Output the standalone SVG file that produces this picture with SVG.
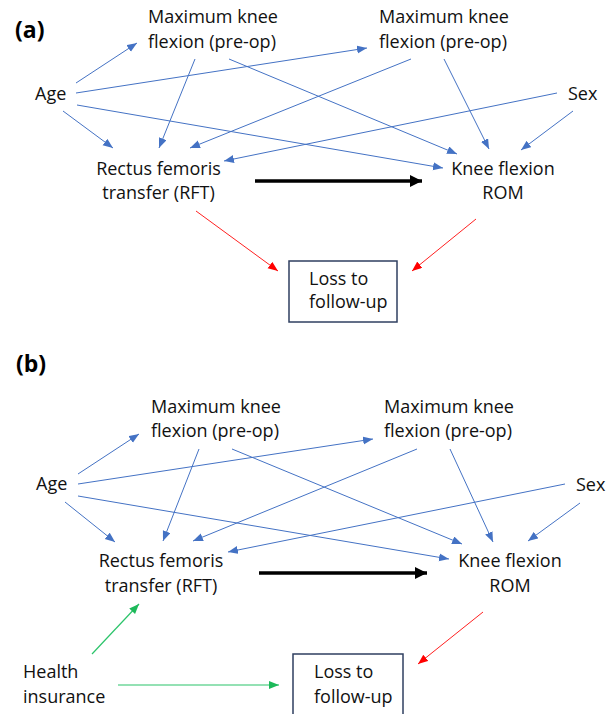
<svg xmlns="http://www.w3.org/2000/svg" width="611" height="714" viewBox="0 0 611 714">
<style>
text{font-family:"Open Sans","Noto Sans","Liberation Sans",sans-serif;font-size:18px;fill:#111}
.lbl{font-family:"Open Sans","Liberation Sans",sans-serif;font-weight:bold;font-size:23px;fill:#000}
.mid{text-anchor:middle}
.b{stroke:#4472C4;stroke-width:1;fill:none;marker-end:url(#hb)}
.r{stroke:#FF2020;stroke-width:1;fill:none;marker-end:url(#hr)}
.g{stroke:#2BC46A;stroke-width:1.2;fill:none;marker-end:url(#hg)}
.k{stroke:#000;stroke-width:3.5;fill:none;marker-end:url(#hk)}
.box{fill:#fff;stroke:#2F3F60;stroke-width:1.5}
</style>
<defs>
<marker id="hb" markerUnits="userSpaceOnUse" markerWidth="11" markerHeight="9" refX="10" refY="4" orient="auto"><path d="M0,0 L10,4 L0,8 z" fill="#4472C4"/></marker>
<marker id="hr" markerUnits="userSpaceOnUse" markerWidth="11" markerHeight="9" refX="10" refY="4" orient="auto"><path d="M0,0 L10,4 L0,8 z" fill="#FF0000"/></marker>
<marker id="hg" markerUnits="userSpaceOnUse" markerWidth="11" markerHeight="9" refX="10" refY="4" orient="auto"><path d="M0,0 L10,4 L0,8 z" fill="#1DB95A"/></marker>
<marker id="hk" markerUnits="userSpaceOnUse" markerWidth="13" markerHeight="13" refX="12" refY="6" orient="auto"><path d="M0,0 L12,6 L0,12 z" fill="#000"/></marker>
</defs>
<rect width="611" height="714" fill="#fff"/>

<g id="connectors-a">
<line class="b" x1="76" y1="83" x2="137" y2="43"/>
<line class="b" x1="76" y1="93" x2="367" y2="48"/>
<line class="b" x1="63" y1="111" x2="113" y2="148"/>
<line class="b" x1="77" y1="105" x2="443" y2="168"/>
<line class="b" x1="195" y1="59" x2="159" y2="148"/>
<line class="b" x1="229" y1="59" x2="457" y2="154"/>
<line class="b" x1="411" y1="59" x2="190" y2="148"/>
<line class="b" x1="444" y1="59" x2="489" y2="149"/>
<line class="b" x1="557" y1="93" x2="224" y2="161"/>
<line class="b" x1="573" y1="111" x2="521" y2="150"/>
<line class="k" x1="255" y1="181" x2="422" y2="181"/>
<line class="r" x1="196" y1="211" x2="278" y2="271"/>
<line class="r" x1="476" y1="219" x2="412" y2="271"/>
</g>

<text id="label-a" class="lbl" x="15" y="38">(a)</text>
<g id="a-mkf1"><text x="148" y="23">Maximum knee</text><text x="148" y="48">flexion (pre-op)</text></g>
<g id="a-mkf2"><text x="379" y="23">Maximum knee</text><text x="379" y="48">flexion (pre-op)</text></g>
<g id="a-age"><text x="35" y="100">Age</text></g>
<g id="a-sex"><text x="568" y="100">Sex</text></g>
<g id="a-rft"><text class="mid" x="158.5" y="175">Rectus femoris</text><text class="mid" x="158.5" y="199">transfer (RFT)</text></g>
<g id="a-rom"><text class="mid" x="503" y="175">Knee flexion</text><text class="mid" x="503" y="199">ROM</text></g>
<g id="a-loss"><rect class="box" x="289" y="261" width="108" height="61"/><text x="309" y="285">Loss to</text><text x="309" y="308">follow-up</text></g>

<g id="connectors-b">
<line class="b" x1="78" y1="474" x2="139" y2="434"/>
<line class="b" x1="78" y1="484" x2="373" y2="439"/>
<line class="b" x1="65" y1="502" x2="115" y2="542"/>
<line class="b" x1="78" y1="496" x2="449" y2="559"/>
<line class="b" x1="199" y1="449" x2="163" y2="541"/>
<line class="b" x1="232" y1="449" x2="462" y2="544"/>
<line class="b" x1="417" y1="449" x2="193" y2="541"/>
<line class="b" x1="450" y1="449" x2="493" y2="542"/>
<line class="b" x1="565" y1="484" x2="228" y2="552"/>
<line class="b" x1="580" y1="503" x2="528" y2="541"/>
<line class="k" x1="259" y1="573" x2="427" y2="573"/>
<line class="r" x1="483" y1="612" x2="418" y2="664"/>
<line class="g" x1="92" y1="654" x2="139" y2="604"/>
<line class="g" x1="118" y1="685" x2="279" y2="685"/>
</g>

<text id="label-b" class="lbl" x="16" y="372">(b)</text>
<g id="b-mkf1"><text x="151" y="413">Maximum knee</text><text x="151" y="437">flexion (pre-op)</text></g>
<g id="b-mkf2"><text x="384" y="413">Maximum knee</text><text x="384" y="437">flexion (pre-op)</text></g>
<g id="b-age"><text x="36" y="490">Age</text></g>
<g id="b-sex"><text x="576" y="491">Sex</text></g>
<g id="b-rft"><text class="mid" x="161" y="567">Rectus femoris</text><text class="mid" x="161" y="592">transfer (RFT)</text></g>
<g id="b-rom"><text class="mid" x="510" y="567">Knee flexion</text><text class="mid" x="510" y="592">ROM</text></g>
<g id="b-health"><text x="23" y="678">Health</text><text x="23" y="703">insurance</text></g>
<g id="b-loss"><rect class="box" x="293" y="654" width="110" height="70"/><text x="314" y="678">Loss to</text><text x="314" y="703">follow-up</text></g>
</svg>
